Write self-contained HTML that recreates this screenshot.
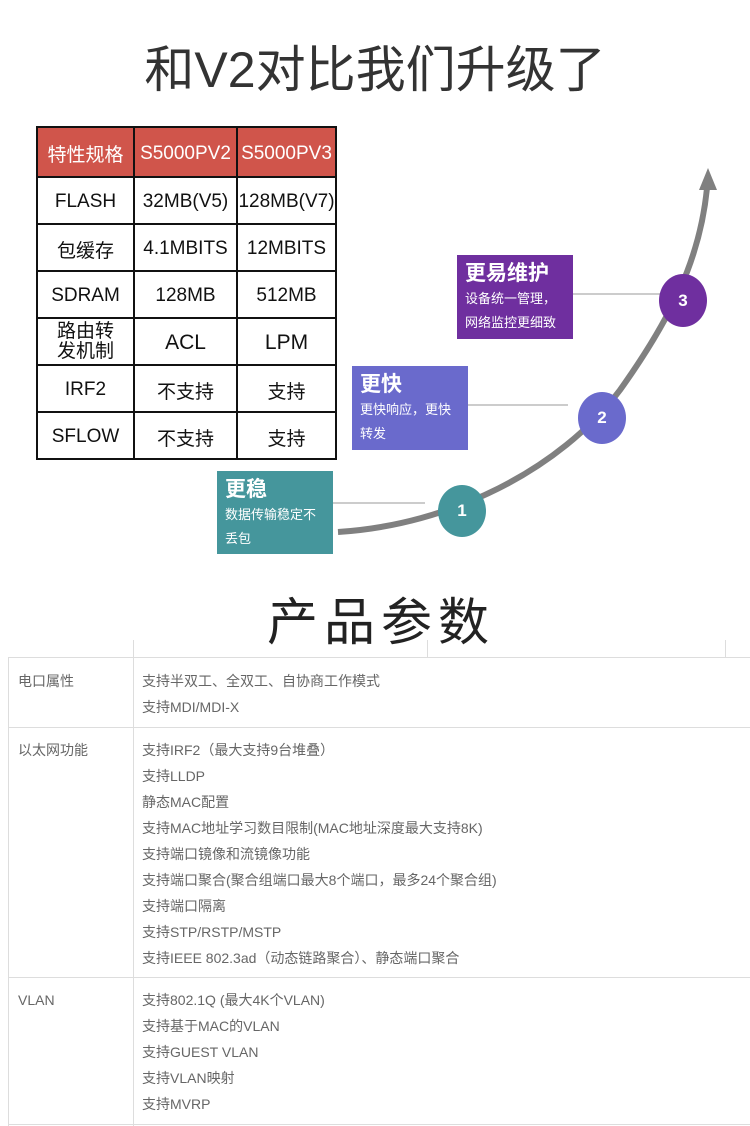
<!DOCTYPE html>
<html><head><meta charset="utf-8"><style>
body{margin:0;width:750px;height:1126px;background:#fff;position:relative;overflow:hidden;font-family:"Liberation Sans","Noto Sans CJK SC",sans-serif;}
.a{position:absolute;}
table.s{position:absolute;left:36px;top:126px;border-collapse:collapse;}
table.s td{border:2px solid #111;text-align:center;font-size:19px;color:#111;padding:3px 0 0 0;height:42px;}
table.s tr.h td{background:#d0554b;color:#fff;height:45px;}
.box{position:absolute;color:#fff;padding:6px 8px;box-sizing:border-box;}
.box b{font-size:21px;display:block;line-height:26px;}
.box span{font-size:13px;line-height:24px;display:block;}
.c{position:absolute;border-radius:50%;color:#fff;font-weight:bold;font-size:17px;text-align:center;}
.t{position:absolute;font-size:14px;color:#666;line-height:26px;}
.hl{position:absolute;height:1px;background:#ddd;}
.vl{position:absolute;width:1px;background:#ddd;}
</style></head><body>
<div class="a" style="left:0;width:750px;top:30px;text-align:center;font-size:50px;color:#333;">和V2对比我们升级了</div>
<table class="s">
<col style="width:97px"><col style="width:103px"><col style="width:99px">
<tr class="h"><td>特性规格</td><td>S5000PV2</td><td>S5000PV3</td></tr>
<tr><td>FLASH</td><td>32MB(V5)</td><td>128MB(V7)</td></tr>
<tr><td>包缓存</td><td>4.1MBITS</td><td>12MBITS</td></tr>
<tr><td>SDRAM</td><td>128MB</td><td>512MB</td></tr>
<tr><td style="line-height:20px;padding:0">路由转<br>发机制</td><td style="font-size:21px">ACL</td><td style="font-size:21px">LPM</td></tr>
<tr><td>IRF2</td><td>不支持</td><td>支持</td></tr>
<tr><td>SFLOW</td><td>不支持</td><td>支持</td></tr>
</table>
<svg class="a" style="left:0;top:0" width="750" height="600">
<path d="M338 532 C 450 525, 560 470, 620 390 C 670 320, 700 260, 707 188" fill="none" stroke="#808080" stroke-width="6"/>
<polygon points="708,168 699,190 717,190" fill="#808080"/>
<line x1="333" y1="503" x2="425" y2="503" stroke="#ccc" stroke-width="2"/>
<line x1="461" y1="405" x2="568" y2="405" stroke="#ccc" stroke-width="2"/>
<line x1="572" y1="294" x2="662" y2="294" stroke="#ccc" stroke-width="2"/>
</svg>
<div class="c" style="left:438px;top:485px;width:48px;height:52px;line-height:52px;background:#45969c;">1</div>
<div class="c" style="left:578px;top:392px;width:48px;height:52px;line-height:52px;background:#6a6acc;">2</div>
<div class="c" style="left:659px;top:274px;width:48px;height:53px;line-height:53px;background:#6f2f9f;">3</div>
<div class="box" style="left:217px;top:471px;width:116px;height:83px;background:#45969c;"><b>更稳</b><span>数据传输稳定不丢包</span></div>
<div class="box" style="left:352px;top:366px;width:116px;height:84px;background:#6a6acc;"><b>更快</b><span>更快响应，更快转发</span></div>
<div class="box" style="left:457px;top:255px;width:116px;height:84px;background:#6f2f9f;"><b>更易维护</b><span>设备统一管理，网络监控更细致</span></div>
<div class="a" style="left:6px;width:750px;top:581px;text-align:center;font-size:51px;color:#222;letter-spacing:6px;">产品参数</div>
<div class="vl" style="left:8px;top:657px;height:469px;"></div>
<div class="vl" style="left:133px;top:640px;height:486px;"></div>
<div class="vl" style="left:427px;top:640px;height:17px;"></div>
<div class="vl" style="left:725px;top:640px;height:17px;"></div>
<div class="hl" style="left:8px;top:657px;width:742px;"></div>
<div class="hl" style="left:8px;top:727px;width:742px;"></div>
<div class="hl" style="left:8px;top:977px;width:742px;"></div>
<div class="hl" style="left:8px;top:1124px;width:742px;"></div>
<div class="t" style="left:18px;top:668px;">电口属性</div>
<div class="t" style="left:142px;top:668px;">支持半双工、全双工、自协商工作模式<br>支持MDI/MDI-X</div>
<div class="t" style="left:18px;top:737px;">以太网功能</div>
<div class="t" style="left:142px;top:737px;">支持IRF2（最大支持9台堆叠）<br>支持LLDP<br>静态MAC配置<br>支持MAC地址学习数目限制(MAC地址深度最大支持8K)<br>支持端口镜像和流镜像功能<br>支持端口聚合(聚合组端口最大8个端口，最多24个聚合组)<br>支持端口隔离<br>支持STP/RSTP/MSTP<br>支持IEEE 802.3ad（动态链路聚合）、静态端口聚合</div>
<div class="t" style="left:18px;top:987px;">VLAN</div>
<div class="t" style="left:142px;top:987px;">支持802.1Q (最大4K个VLAN)<br>支持基于MAC的VLAN<br>支持GUEST VLAN<br>支持VLAN映射<br>支持MVRP</div>
</body></html>
